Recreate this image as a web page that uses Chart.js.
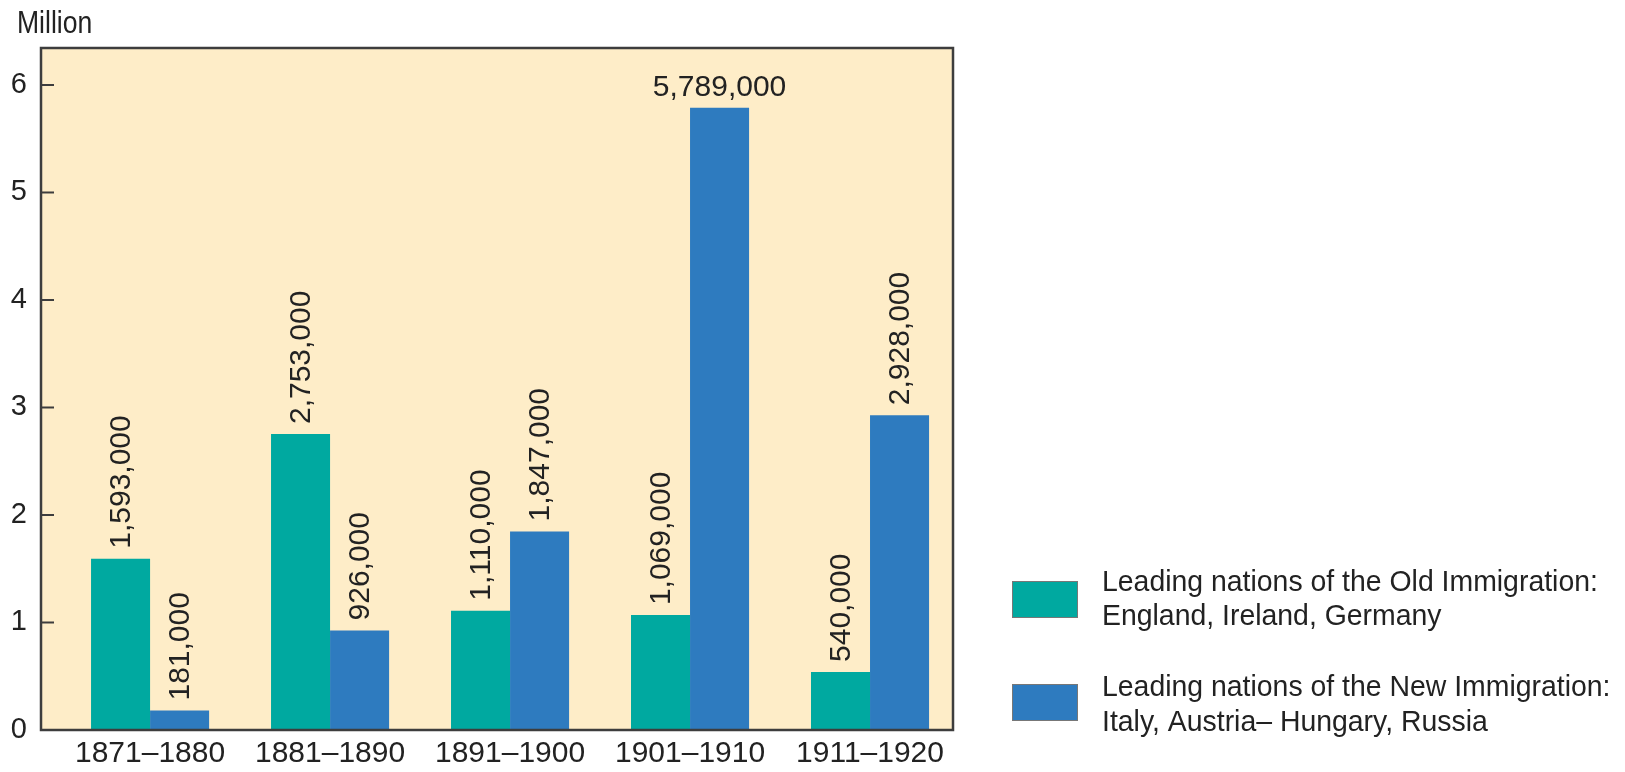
<!DOCTYPE html>
<html>
<head>
<meta charset="utf-8">
<script src="https://cdn.jsdelivr.net/npm/chart.js@4.4.0/dist/chart.umd.min.js"></script>
<style>
  html, body { margin: 0; padding: 0; background: #fff; }
  #wrap { width: 1625px; height: 772px; }
</style>
</head>
<body>
<div id="wrap"><canvas id="myChart" width="1625" height="772"></canvas></div>
<script>
// Data (millions of immigrants per decade)
var periods = ['1871–1880', '1881–1890', '1891–1900', '1901–1910', '1911–1920'];
var oldImmigration = [1.593, 2.753, 1.110, 1.069, 0.540];
var newImmigration = [0.181, 0.926, 1.847, 5.789, 2.928];
var yTickValues = [0, 1, 2, 3, 4, 5, 6];
var oldLegend = ['Leading nations of the Old Immigration:', 'England, Ireland, Germany'];
var newLegend = ['Leading nations of the New Immigration:', 'Italy, Austria– Hungary, Russia'];

var numFont = '"Liberation Sans", Arial, sans-serif';
var ink = '#222';
var frameColor = '#3d3d3d';

function fmt(v) {
  return Math.round(v * 1e6).toLocaleString('en-US');
}

// condensed-looking text: squeeze horizontally
function narrowText(ctx, text, x, y, sx) {
  ctx.save();
  ctx.translate(x, y);
  ctx.scale(sx, 1);
  ctx.fillText(text, 0, 0);
  ctx.restore();
}

// background, frame, inside ticks, value labels, "Million" and legend
var decor = {
  id: 'decor',
  beforeDatasetsDraw: function (chart) {
    var a = chart.chartArea, ctx = chart.ctx;
    ctx.save();
    ctx.fillStyle = '#FEEDC8';
    ctx.fillRect(a.left, a.top, a.right - a.left, a.bottom - a.top);
    ctx.restore();
  },
  afterDatasetsDraw: function (chart) {
    var a = chart.chartArea, ctx = chart.ctx;
    var y = chart.scales.y;
    ctx.save();
    ctx.strokeStyle = frameColor;
    ctx.lineWidth = 2.5;
    ctx.strokeRect(a.left, a.top, a.right - a.left, a.bottom - a.top);
    ctx.lineWidth = 2;
    yTickValues.forEach(function (v) {
      if (v === 0) return;
      var py = y.getPixelForValue(v);
      ctx.beginPath();
      ctx.moveTo(a.left, py);
      ctx.lineTo(a.left + 13, py);
      ctx.stroke();
    });

    // value labels over bars
    ctx.fillStyle = ink;
    ctx.font = '30px ' + numFont;
    chart.data.datasets.forEach(function (ds, di) {
      var meta = chart.getDatasetMeta(di);
      meta.data.forEach(function (bar, i) {
        var text = fmt(ds.data[i].y);
        var w = ctx.measureText(text).width;
        if (bar.y - 10 - w < a.top) {
          ctx.textAlign = 'center';
          ctx.textBaseline = 'alphabetic';
          ctx.fillText(text, bar.x, bar.y - 12);
        } else {
          ctx.save();
          ctx.translate(bar.x + 1, bar.y - 10);
          ctx.rotate(-Math.PI / 2);
          ctx.textAlign = 'left';
          ctx.textBaseline = 'middle';
          ctx.fillText(text, 0, 0);
          ctx.restore();
        }
      });
    });

    // unit label
    ctx.textAlign = 'left';
    ctx.textBaseline = 'alphabetic';
    ctx.font = '32px ' + numFont;
    narrowText(ctx, 'Million', 17, 33, 0.83);

    // legend
    var items = [
      { color: chart.data.datasets[0].backgroundColor, lines: oldLegend, top: 581, b1: 10, b2: 44 },
      { color: chart.data.datasets[1].backgroundColor, lines: newLegend, top: 684, b1: 12, b2: 47 }
    ];
    ctx.font = '30px ' + numFont;
    items.forEach(function (it) {
      ctx.fillStyle = it.color;
      ctx.fillRect(1012, it.top, 66, 37);
      ctx.strokeStyle = '#777';
      ctx.lineWidth = 1;
      ctx.strokeRect(1012.5, it.top + 0.5, 65, 36);
      ctx.fillStyle = ink;
      narrowText(ctx, it.lines[0], 1102, it.top + it.b1, 0.947);
      narrowText(ctx, it.lines[1], 1102, it.top + it.b2, 0.947);
    });
    ctx.restore();
  }
};

var data = {
  datasets: [
    {
      label: oldLegend.join(' '),
      data: oldImmigration.map(function (v, i) { return { x: i, y: v }; }),
      backgroundColor: '#00A9A0',
      borderWidth: 0
    },
    {
      label: newLegend.join(' '),
      data: newImmigration.map(function (v, i) { return { x: i, y: v }; }),
      backgroundColor: '#2E7BBF',
      borderWidth: 0
    }
  ]
};

var options = {
  responsive: false,
  animation: false,
  layout: { padding: { left: 0, top: 48, right: 672, bottom: 0 } },
  categoryPercentage: 0.656,
  barPercentage: 1,
  plugins: {
    legend: { display: false },
    tooltip: { enabled: false }
  },
  scales: {
    x: {
      type: 'linear',
      offset: false,
      min: -0.606,
      max: 4.461,
      afterBuildTicks: function (s) {
        s.ticks = periods.map(function (p, i) { return { value: i }; });
      },
      afterFit: function (s) { s.height = 42; },
      grid: { display: false, drawTicks: false },
      border: { display: false },
      ticks: {
        callback: function (v) { return periods[v]; },
        font: { family: numFont, size: 30 },
        color: ink,
        padding: 6,
        maxRotation: 0,
        autoSkip: false
      }
    },
    y: {
      min: 0,
      max: 6.344,
      afterBuildTicks: function (s) {
        s.ticks = yTickValues.map(function (v) { return { value: v }; });
      },
      afterFit: function (s) { s.width = 41; },
      grid: { display: false, drawTicks: false },
      border: { display: false },
      ticks: {
        font: { family: numFont, size: 29 },
        color: ink,
        padding: 14
      }
    }
  }
};

var ctx = document.getElementById('myChart').getContext('2d');
var myChart = new Chart(ctx, {
  type: 'bar',
  data: data,
  options: options,
  plugins: [decor]
});
</script>
</body>
</html>
